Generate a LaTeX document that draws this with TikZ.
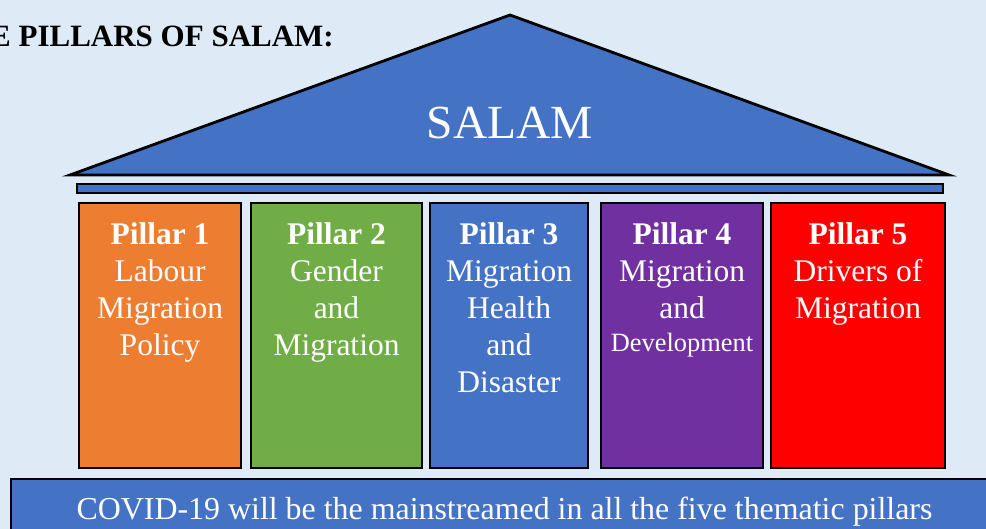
\documentclass[tikz,border=0pt]{standalone}
\usepackage{fontspec}
\setmainfont{Liberation Serif}
\usetikzlibrary{positioning}
\definecolor{bgblue}{HTML}{DEEBF7}
\definecolor{salamblue}{HTML}{4472C4}
\definecolor{pillarorange}{HTML}{ED7D31}
\definecolor{pillargreen}{HTML}{70AD47}
\definecolor{pillarpurple}{HTML}{7030A0}
\definecolor{pillarred}{HTML}{FF0000}

\begin{document}
\begin{tikzpicture}[x=1pt,y=-1pt,
        pillar/.style={draw=black,line width=2.8pt,outer sep=0pt,minimum height=265pt},
        lbl/.style={text=white,align=center,inner sep=0pt,font=\fontsize{31.5}{37}\selectfont}]
                \useasboundingbox (0,0) rectangle (986,529);
                \clip (0,0) rectangle (986,529);
                \fill[bgblue] (0,0) rectangle (986,529);
                \node[anchor=base east,inner sep=0pt,font=\bfseries\fontsize{31}{37}\selectfont] (title) at (334,47) {THE PILLARS OF SALAM:};
                % roof and beam
                \coordinate (L) at (70,175);
                \coordinate (A) at (510,15);
                \coordinate (R) at (949,175);
                \draw[fill=salamblue,line width=2.8pt] (L)--(A)--(R)--cycle;
                \node[anchor=base,inner sep=0pt,text=white,font=\fontsize{47.5}{50}\selectfont] (salam) at (510,139) {SALAM};
                \draw[fill=salamblue,line width=2.2pt] (77,184) rectangle (943,193);
                % pillars
                \node[pillar,fill=pillarorange,minimum width=162pt] (p1) at (160,335.5) {};
                \node[pillar,fill=pillargreen,minimum width=171pt] (p2) at (336.5,335.5) {};
                \node[pillar,fill=salamblue,minimum width=158pt] (p3) at (509,335.5) {};
                \node[pillar,fill=pillarpurple,minimum width=162pt] (p4) at (682,335.5) {};
                \node[pillar,fill=pillarred,minimum width=174pt] (p5) at (858,335.5) {};
                \node[lbl,below=19pt of p1.north] (t1) {\textbf{Pillar 1}\\Labour\\Migration\\Policy};
                \node[lbl,below=19pt of p2.north] (t2) {\textbf{Pillar 2}\\Gender\\and\\Migration};
                \node[lbl,below=19pt of p3.north] (t3) {\textbf{Pillar 3}\\Migration\\Health\\and\\Disaster};
                \node[lbl,below=19pt of p4.north] (t4) {\textbf{Pillar 4}\\Migration\\and\\[-4pt]{\fontsize{26.4}{30}\selectfont Development}};
                \node[lbl,below=19pt of p5.north] (t5) {\textbf{Pillar 5}\\Drivers of\\Migration};
                % base
                \draw[fill=salamblue,line width=2.8pt] (11,479) rectangle (1000,545);
                \node[anchor=base,inner sep=0pt,text=white,font=\fontsize{31.9}{37}\selectfont] (covid) at (504.5,519) {COVID-19 will be the mainstreamed in all the five thematic pillars};
            \end{tikzpicture}
\end{document}
